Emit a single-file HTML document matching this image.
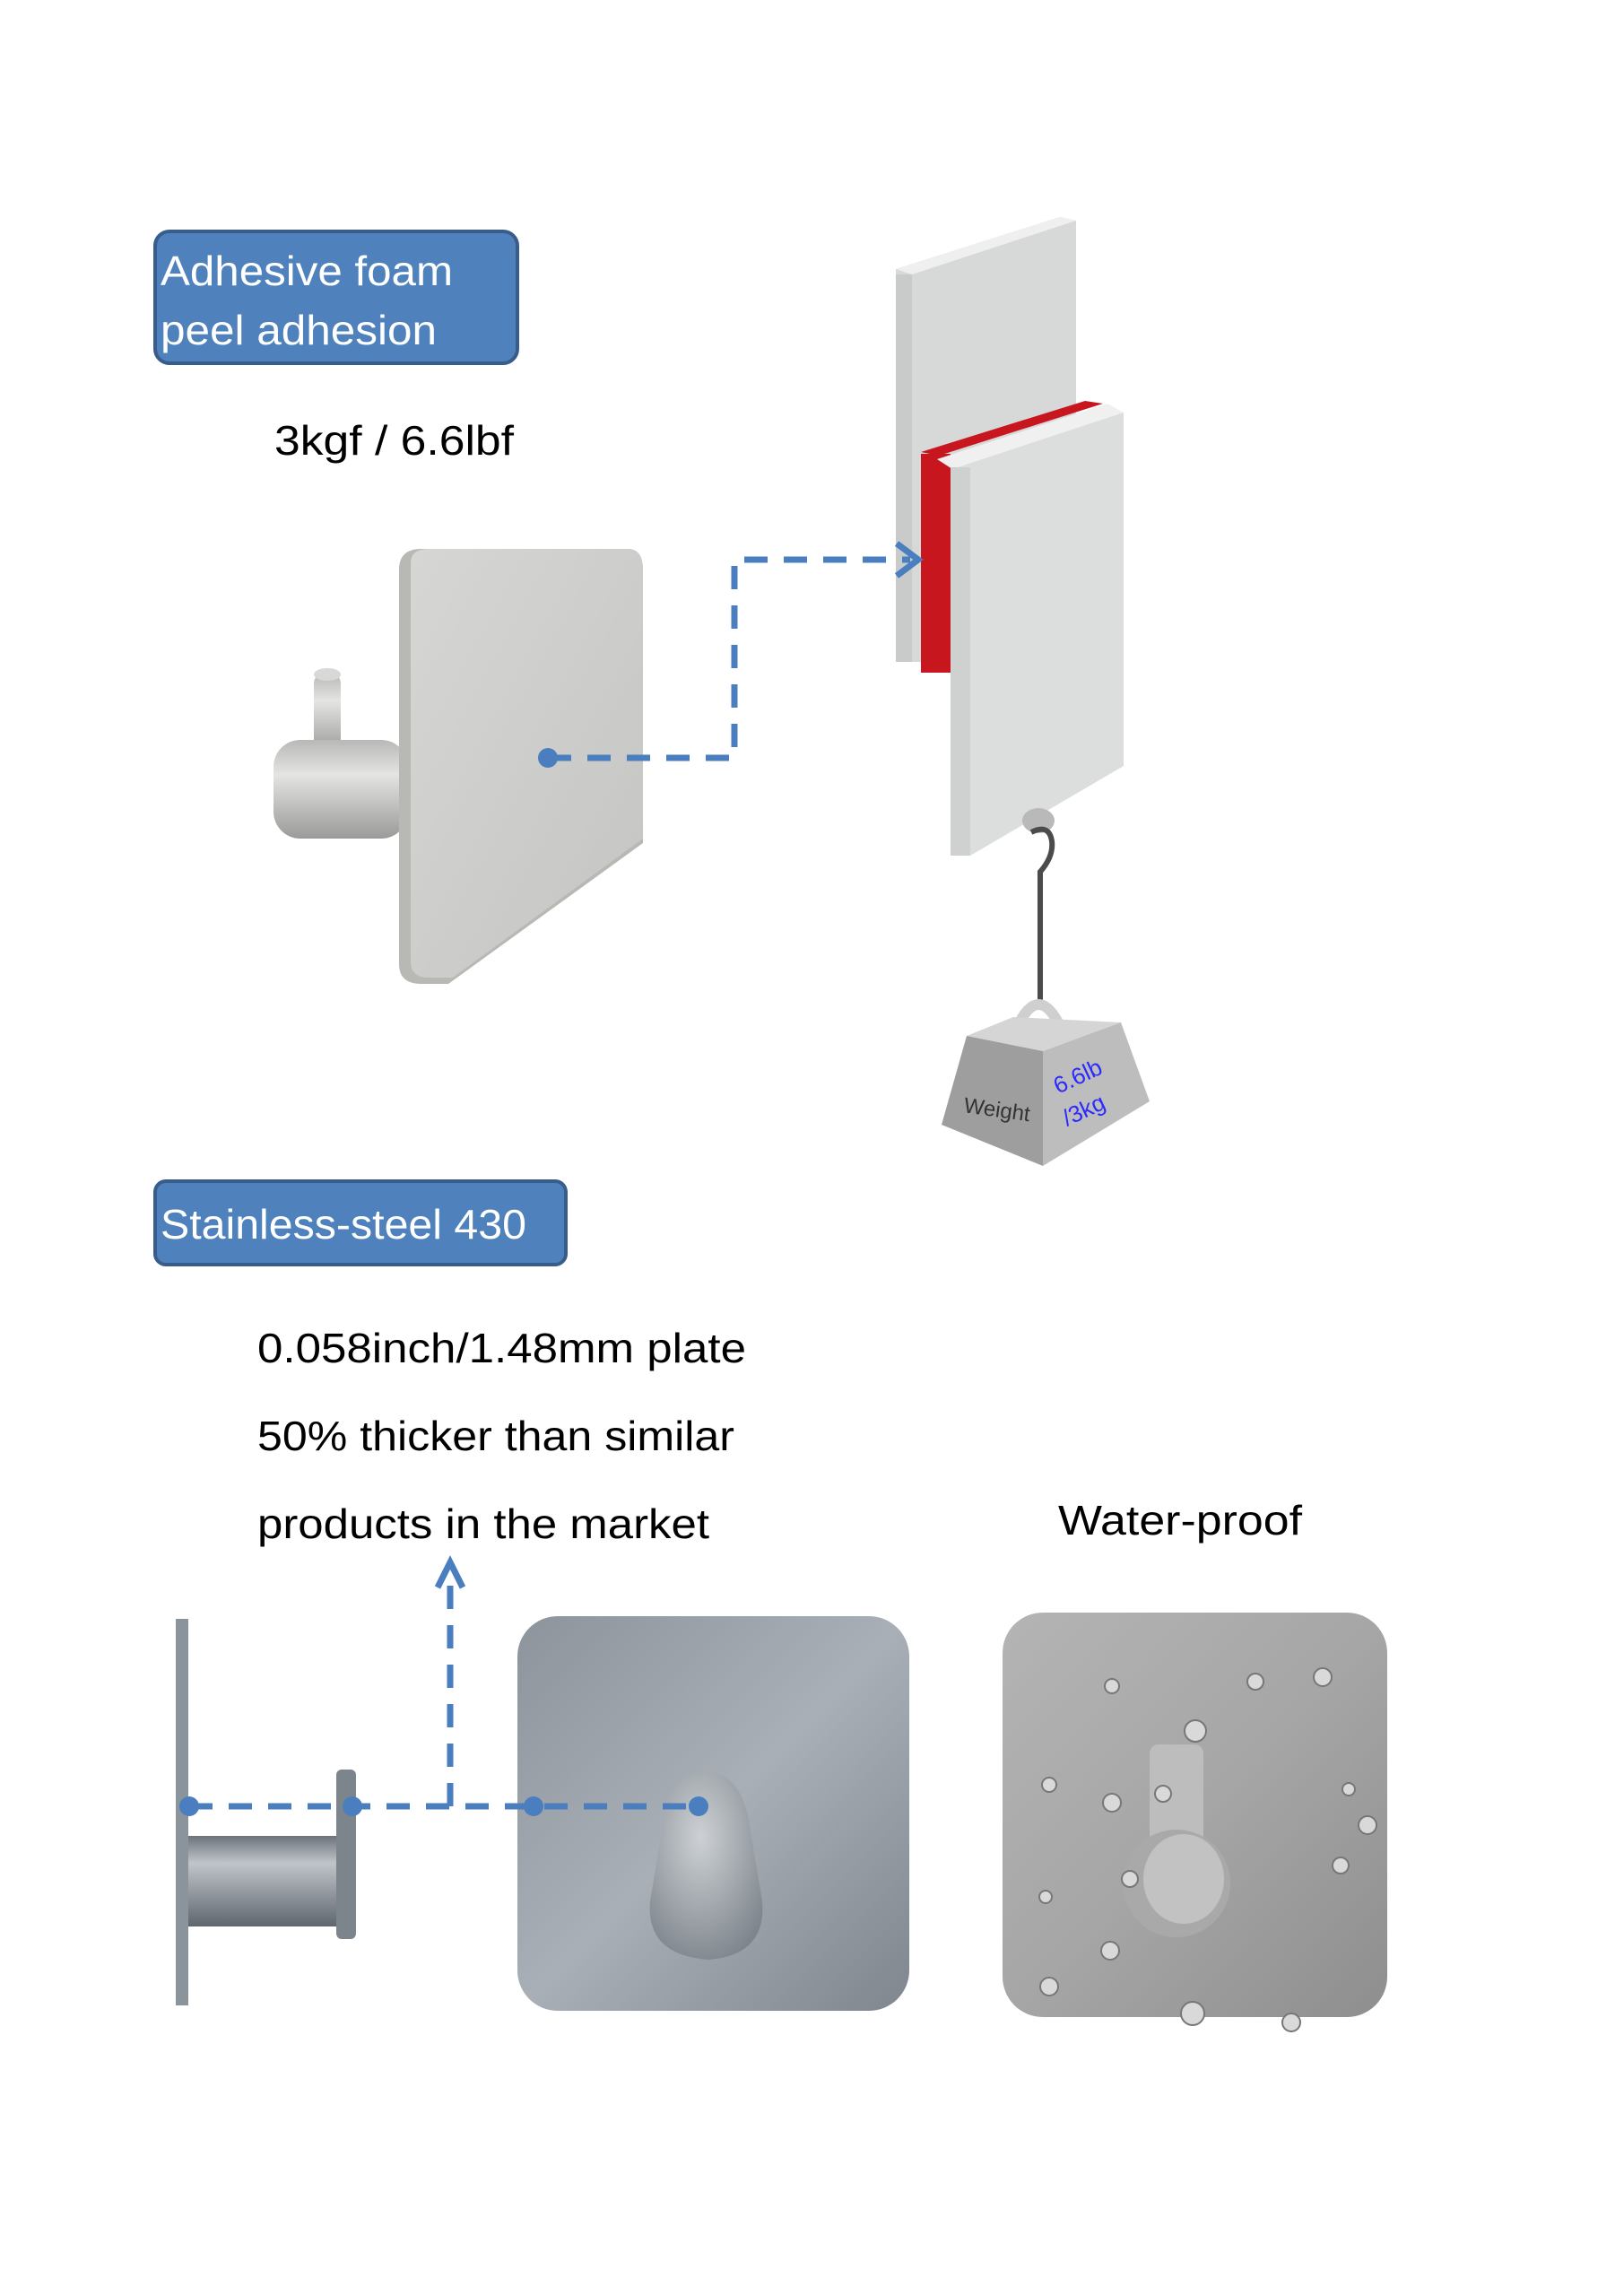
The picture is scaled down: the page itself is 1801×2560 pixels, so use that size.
<!DOCTYPE html>
<html><head><meta charset="utf-8"><style>
html,body{margin:0;padding:0;background:#fff;}
svg{display:block;}
text{font-family:"Liberation Sans",sans-serif;}
</style></head><body>
<svg width="1801" height="2560" viewBox="0 0 1801 2560" xmlns="http://www.w3.org/2000/svg">
<defs>
<linearGradient id="plate1" x1="0" y1="0" x2="1" y2="1"><stop offset="0" stop-color="#d6d6d4"/><stop offset="1" stop-color="#c4c4c2"/></linearGradient>
<linearGradient id="cyl" x1="0" y1="0" x2="0" y2="1"><stop offset="0" stop-color="#b8b8b6"/><stop offset="0.35" stop-color="#e4e4e2"/><stop offset="1" stop-color="#9a9a98"/></linearGradient>
<linearGradient id="steel" x1="0" y1="0" x2="1" y2="1"><stop offset="0" stop-color="#8d949c"/><stop offset="0.5" stop-color="#a9afb6"/><stop offset="1" stop-color="#7f868e"/></linearGradient>
<linearGradient id="cyl2" x1="0" y1="0" x2="0" y2="1"><stop offset="0" stop-color="#6c737b"/><stop offset="0.3" stop-color="#c0c5ca"/><stop offset="1" stop-color="#5f666e"/></linearGradient>
<radialGradient id="knob" cx="0.45" cy="0.35" r="0.7"><stop offset="0" stop-color="#cdd1d5"/><stop offset="1" stop-color="#7e858c"/></radialGradient>
<linearGradient id="wp" x1="0" y1="0" x2="1" y2="1"><stop offset="0" stop-color="#b4b4b4"/><stop offset="0.5" stop-color="#a6a6a6"/><stop offset="1" stop-color="#8e8e8e"/></linearGradient>
</defs>

<!-- Box 1 -->
<rect x="173" y="258" width="404" height="147" rx="16" fill="#4f81bd" stroke="#385d8a" stroke-width="4"/>
<text x="179" y="318" font-size="46" fill="#fff" textLength="326" lengthAdjust="spacingAndGlyphs">Adhesive foam</text>
<text x="179" y="384" font-size="46" fill="#fff" textLength="308" lengthAdjust="spacingAndGlyphs">peel adhesion</text>
<text x="306" y="507" font-size="46" fill="#000" textLength="267" lengthAdjust="spacingAndGlyphs">3kgf / 6.6lbf</text>

<!-- Hook 1 -->
<rect x="350" y="750" width="30" height="90" rx="12" fill="url(#cyl)"/>
<ellipse cx="365" cy="752" rx="15" ry="7" fill="#d8d8d6"/>
<rect x="305" y="825" width="150" height="110" rx="30" fill="url(#cyl)"/>
<path d="M445 635 Q445 612 470 612 L700 612 Q717 612 717 635 L717 940 L500 1097 L470 1097 Q445 1097 445 1075 Z" fill="#b8b8b4"/>
<path d="M458 628 Q458 612 478 612 L700 612 Q717 612 717 635 L717 935 L505 1090 L478 1090 Q458 1090 458 1072 Z" fill="url(#plate1)"/>

<!-- panels -->
<polygon points="999,300 1182,242 1200,246 1200,738 1017,738 999,738" fill="#d7d8d8"/>
<polygon points="999,300 1182,242 1200,246 1017,306" fill="#efefef"/>
<rect x="999" y="306" width="18" height="432" fill="#c9caca"/>
<polygon points="1027,504 1210,447 1230,450 1047,508" fill="#c8161f"/>
<rect x="1027" y="506" width="33" height="244" fill="#c8161f"/>
<polygon points="1060,523 1240,456 1253,460 1253,854 1082,954 1060,954" fill="#dcdddd"/>
<polygon points="1045,512 1235,450 1253,460 1062,523" fill="#f0f0f0"/>
<rect x="1060" y="521" width="22" height="433" fill="#cfd0d0"/>

<!-- dashed connector 1 -->
<g stroke="#4a7ebf" stroke-width="7" fill="none" stroke-dasharray="26 18">
<path d="M611 845 L819 845 L819 624 L1015 624"/>
</g>
<circle cx="611" cy="845" r="11" fill="#4a7ebf"/>
<path d="M1000 606 L1024 624 L1000 642" stroke="#4a7ebf" stroke-width="7" fill="none"/>

<!-- hook & weight -->
<ellipse cx="1158" cy="915" rx="18" ry="14" fill="#b9b9b9"/>
<path d="M1150 928 Q1170 918 1173 938 Q1175 955 1160 972 L1160 1125" stroke="#4b4b4b" stroke-width="6" fill="none"/>
<path d="M1137 1140 Q1158 1100 1180 1140" stroke="#cfcfcf" stroke-width="12" fill="none"/>
<polygon points="1078,1155 1130,1134 1250,1140 1163,1172" fill="#d5d5d5"/>
<polygon points="1078,1155 1163,1172 1163,1300 1050,1254" fill="#9e9e9e"/>
<polygon points="1163,1172 1250,1140 1282,1228 1163,1300" fill="#bdbdbd"/>
<text x="1074" y="1240" font-size="24" fill="#333" transform="rotate(8 1074 1240)">Weight</text>
<text x="1180" y="1220" font-size="26" fill="#2b2bff" transform="rotate(-25 1180 1220)">6.6lb</text>
<text x="1190" y="1256" font-size="26" fill="#2b2bff" transform="rotate(-25 1190 1256)">/3kg</text>

<!-- Box 2 -->
<rect x="173" y="1317" width="458" height="93" rx="12" fill="#4f81bd" stroke="#385d8a" stroke-width="4"/>
<text x="179" y="1381" font-size="46" fill="#fff" textLength="408" lengthAdjust="spacingAndGlyphs">Stainless-steel 430</text>

<text x="287" y="1519" font-size="46" fill="#000" textLength="545" lengthAdjust="spacingAndGlyphs">0.058inch/1.48mm plate</text>
<text x="287" y="1617" font-size="46" fill="#000" textLength="532" lengthAdjust="spacingAndGlyphs">50% thicker than similar</text>
<text x="287" y="1715" font-size="46" fill="#000" textLength="504" lengthAdjust="spacingAndGlyphs">products in the market</text>
<text x="1180" y="1711" font-size="46" fill="#000" textLength="272" lengthAdjust="spacingAndGlyphs">Water-proof</text>

<!-- side profile -->
<rect x="196" y="1805" width="14" height="431" fill="#8b939b"/>
<rect x="210" y="2047" width="170" height="101" fill="url(#cyl2)"/>
<rect x="375" y="1973" width="22" height="189" rx="6" fill="#7c848c"/>

<!-- front hook -->
<rect x="577" y="1802" width="437" height="440" rx="45" fill="url(#steel)"/>
<path d="M785 1975 Q825 1975 835 2030 L850 2120 Q855 2180 790 2185 Q720 2180 725 2120 L740 2030 Q748 1975 785 1975 Z" fill="url(#knob)"/>

<!-- dashed connector 2 -->
<g stroke="#4a7ebf" stroke-width="7" fill="none" stroke-dasharray="26 18">
<path d="M211 2014 L779 2014"/>
<path d="M502 2014 L502 1750"/>
</g>
<circle cx="211" cy="2014" r="11" fill="#4a7ebf"/>
<circle cx="393" cy="2014" r="11" fill="#4a7ebf"/>
<circle cx="595" cy="2014" r="11" fill="#4a7ebf"/>
<circle cx="779" cy="2014" r="11" fill="#4a7ebf"/>
<path d="M488 1770 L502 1742 L516 1770" stroke="#4a7ebf" stroke-width="7" fill="none"/>

<!-- waterproof hook -->
<rect x="1118" y="1798" width="429" height="451" rx="45" fill="url(#wp)"/>
<rect x="1282" y="1945" width="60" height="110" rx="10" fill="#bdbdbd"/>
<circle cx="1312" cy="2100" r="60" fill="#a9a9a9"/>
<ellipse cx="1320" cy="2095" rx="45" ry="50" fill="#c2c2c2"/>
<g fill="#d9d9d9" stroke="#777" stroke-width="2">
<circle cx="1240" cy="1880" r="8"/><circle cx="1400" cy="1875" r="9"/><circle cx="1475" cy="1870" r="10"/>
<circle cx="1333" cy="1930" r="12"/><circle cx="1170" cy="1990" r="8"/><circle cx="1240" cy="2010" r="10"/>
<circle cx="1297" cy="2000" r="9"/><circle cx="1525" cy="2035" r="10"/><circle cx="1504" cy="1995" r="7"/>
<circle cx="1495" cy="2080" r="9"/><circle cx="1260" cy="2095" r="9"/><circle cx="1166" cy="2115" r="7"/>
<circle cx="1238" cy="2175" r="10"/><circle cx="1170" cy="2215" r="10"/><circle cx="1330" cy="2245" r="13"/>
<circle cx="1440" cy="2255" r="10"/>
</g>
</svg>
</body></html>
